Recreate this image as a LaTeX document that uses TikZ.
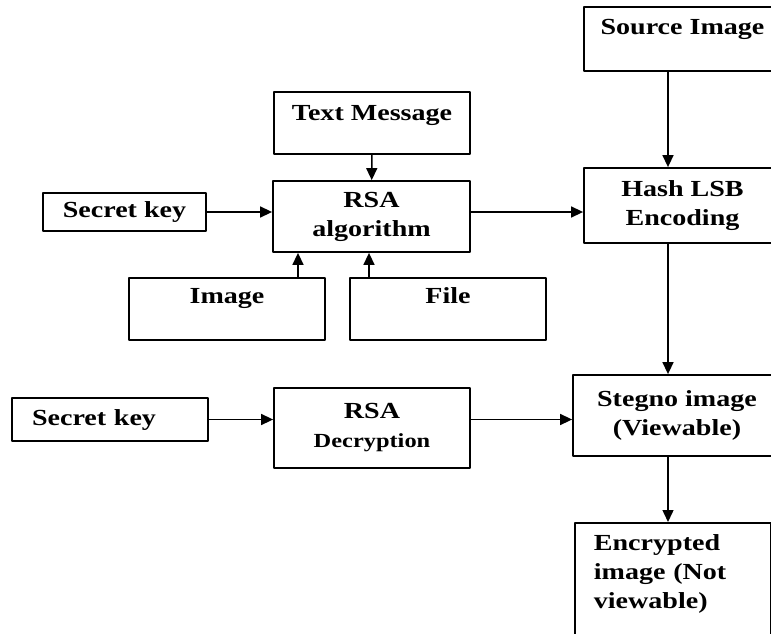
\documentclass[tikz,border=0pt]{standalone}
\usepackage{fontspec}
\setmainfont{Liberation Serif}[FakeStretch=1.22]
\usetikzlibrary{arrows.meta}

\begin{document}
\begin{tikzpicture}[line cap=round,line join=round,>={Triangle[length=12pt,width=11pt]},x=1pt,y=-1pt,
		box/.style={draw,line width=1.8pt,inner sep=0pt,align=center,font=\bfseries\fontsize{23}{29}\selectfont},
		lnk/.style={->,line width=1.5pt}]
	\useasboundingbox (0,0) rectangle (771,634);
	\clip (0,0) rectangle (771,634);
	% encryption side
	\node[box,minimum width=196pt,text height=29pt,text depth=33pt] (txtmsg) at (372,123) {Text Message};
	\node[box,minimum width=197pt,minimum height=71pt] (rsa) at (371.5,216.5) {RSA\\algorithm};
	\node[box,minimum width=163pt,minimum height=38pt] (key1) at (124.5,212) {Secret key};
	\node[box,minimum width=196pt,text height=25pt,text depth=37pt] (img) at (227,309) {Image};
	\node[box,minimum width=196pt,text height=25pt,text depth=37pt] (file) at (448,309) {File};
	% embedding column
	\coordinate (spine) at (668,0);
	\node[box,minimum width=197pt,text height=28pt,text depth=36pt] (src) at (682.5,39) {Source Image};
	\node[box,minimum width=197pt,minimum height=75pt] (hash) at (682.5,205.5) {Hash LSB\\Encoding};
	\node[box,minimum width=208pt,minimum height=81pt] (steg) at (677,415.5) {Stegno image\\(Viewable)};
	\node[box,anchor=north west,align=left,text width=158pt,inner xsep=19pt,text height=28pt,text depth=130pt] (enc) at (574,522) {Encrypted\\image (Not\\viewable)};
	% decryption side
	\node[box,align=left,text width=156pt,inner xsep=20pt,minimum height=43pt] (key2) at (110,419.5) {Secret key};
	\node[box,minimum width=196pt,minimum height=80pt] (rsadec) at (372,428) {RSA\\{\fontsize{20}{22}\selectfont Decryption}};
	% arrows
	\draw[lnk] (txtmsg) -- (rsa);
	\draw[lnk] (key1) -- (key1 -| rsa.west);
	\draw[lnk] ([xshift=71pt]img.north) -- ([xshift=71pt]img.north |- rsa.south);
	\draw[lnk] ([xshift=-79pt]file.north) -- ([xshift=-79pt]file.north |- rsa.south);
	\draw[lnk] (key1 -| rsa.east) -- (key1 -| hash.west);
	\draw[lnk] (spine |- src.south) -- (spine |- hash.north);
	\draw[lnk] (spine |- hash.south) -- (spine |- steg.north);
	\draw[lnk] (key2) -- (key2 -| rsadec.west);
	\draw[lnk] (key2 -| rsadec.east) -- (key2 -| steg.west);
	\draw[lnk] (spine |- steg.south) -- (spine |- enc.north);
\end{tikzpicture}
\end{document}
